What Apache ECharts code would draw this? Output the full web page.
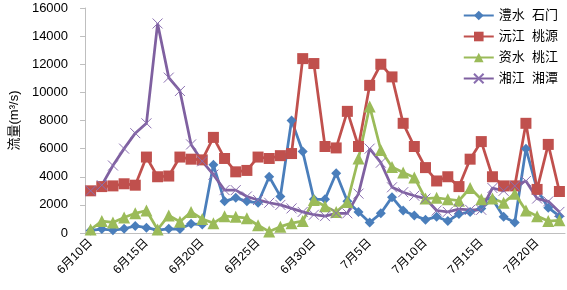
<!DOCTYPE html>
<html>
<head>
<meta charset="utf-8">
<script src="https://cdn.jsdelivr.net/npm/echarts@6/dist/echarts.min.js"></script>
<style>
  html, body { margin: 0; padding: 0; background: #fff; }
  #chart { width: 567px; height: 290px; }
</style>
</head>
<body>
<div id="chart"></div>
<script>
// 日期 6月10日 ~ 7月22日
const dates = [
  '6月10日', '6月11日', '6月12日', '6月13日', '6月14日', '6月15日', '6月16日',
  '6月17日', '6月18日', '6月19日', '6月20日', '6月21日', '6月22日', '6月23日',
  '6月24日', '6月25日', '6月26日', '6月27日', '6月28日', '6月29日', '6月30日',
  '7月1日', '7月2日', '7月3日', '7月4日', '7月5日', '7月6日', '7月7日',
  '7月8日', '7月9日', '7月10日', '7月11日', '7月12日', '7月13日', '7月14日',
  '7月15日', '7月16日', '7月17日', '7月18日', '7月19日', '7月20日', '7月21日', '7月22日'
]

const names = ['澧水  石门', '沅江  桃源', '资水  桃江', '湘江  湘潭']

// 澧水 石门
const lishui = [
  180, 280, 200, 300, 500, 380, 200, 300, 280, 650,
  600, 4850, 2250, 2500, 2250, 2150, 4000, 2600, 8000, 5800,
  2400, 2400, 4250, 2250, 1500, 750, 1400, 2550, 1600, 1250,
  950, 1150, 850, 1350, 1500, 1750, 2400, 1150, 750, 6000,
  3100, 1800, 1200
]
// 沅江 桃源
const yuanjiang = [
  3000, 3300, 3350, 3500, 3400, 5400, 4000, 4050, 5400, 5250,
  5200, 6800, 5300, 4350, 4450, 5400, 5300, 5500, 5650, 12400,
  12050, 6150, 6050, 8650, 6150, 10500, 12000, 11100, 7800, 6150,
  4650, 3700, 4000, 3300, 5250, 6500, 4000, 3350, 3350, 7800,
  3100, 6300, 2950
]
// 资水 桃江
const zishui = [
  250, 850, 750, 1100, 1400, 1600, 250, 1250, 800, 1500,
  1000, 700, 1200, 1150, 1050, 550, 100, 450, 700, 850,
  2350, 1900, 1500, 2200, 5300, 9000, 5900, 4700, 4300, 3950,
  2450, 2500, 2400, 2300, 3200, 2400, 2450, 2150, 2800, 1600,
  1200, 850, 900
]
// 湘江 湘潭
const xiangjiang = [
  3000, 3400, 4800, 6000, 7100, 7800, 14900, 11050, 10100, 6300,
  5100, 4150, 3050, 3050, 2600, 2350, 2150, 2000, 1750, 1500,
  1300, 1200, 1400, 1400, 2800, 6000, 5000, 3250, 2900, 2650,
  2450, 1600, 1500, 1700, 1650, 1650, 3200, 3000, 3350, 3700,
  2450, 2250, 1500
]

const yTicks = [0, 2000, 4000, 6000, 8000, 10000, 12000, 14000, 16000]

const fontCn = '"Liberation Sans", "Noto Sans CJK SC", sans-serif'

const chart = echarts.init(document.getElementById('chart'))

function lineSeries(name, data, color, symbol, size, extra) {
  return Object.assign({
    name: name,
    type: 'line',
    data: data,
    symbol: symbol,
    symbolSize: size,
    showSymbol: true,
    showAllSymbol: true,
    lineStyle: { color: color, width: 2.75 },
    itemStyle: { color: color },
    emphasis: { disabled: true }
  }, extra || {})
}

chart.setOption({
  animation: false,
  grid: {
    left: 73,
    right: 2,
    top: 8,
    bottom: 57
  },
  legend: {
    orient: 'vertical',
    right: 4,
    top: 4,
    itemWidth: 30,
    itemHeight: 12,
    itemGap: 8,
    textStyle: {
      fontSize: 13,
      color: '#000',
      fontFamily: fontCn
    },
    data: names
  },
  xAxis: {
    type: 'category',
    data: dates,
    boundaryGap: true,
    axisLine: { lineStyle: { color: '#BFBFBF', width: 1 } },
    axisTick: { interval: 4, length: 5, lineStyle: { color: '#BFBFBF' } },
    axisLabel: {
      interval: 4,
      rotate: 45,
      margin: 8,
      fontSize: 12,
      color: '#000',
      fontFamily: fontCn
    }
  },
  yAxis: {
    type: 'value',
    min: yTicks[0],
    max: yTicks[yTicks.length - 1],
    interval: 2000,
    name: '流量(m³/s)',
    nameLocation: 'middle',
    nameGap: 56,
    nameTextStyle: {
      fontSize: 13,
      color: '#000',
      fontFamily: fontCn
    },
    axisLine: { show: true, lineStyle: { color: '#BFBFBF', width: 1 } },
    axisTick: { show: true, length: 5, lineStyle: { color: '#BFBFBF' } },
    splitLine: { show: false },
    axisLabel: {
      margin: 17,
      fontSize: 13,
      color: '#000',
      fontFamily: fontCn,
      formatter: function (v) { return String(v) }
    }
  },
  series: [
    lineSeries(names[0], lishui, '#4A7EBB', 'diamond', 10),
    lineSeries(names[1], yuanjiang, '#C0504D', 'rect', 11),
    lineSeries(names[2], zishui, '#9BBB59', 'triangle', 12),
    lineSeries(names[3], xiangjiang, '#7F60A0', 'path://M0,0L10,10M10,0L0,10', 10, {
      itemStyle: { color: '#8A6FB0', borderColor: '#8A6FB0', borderWidth: 1 }
    })
  ]
})
</script>
</body>
</html>
